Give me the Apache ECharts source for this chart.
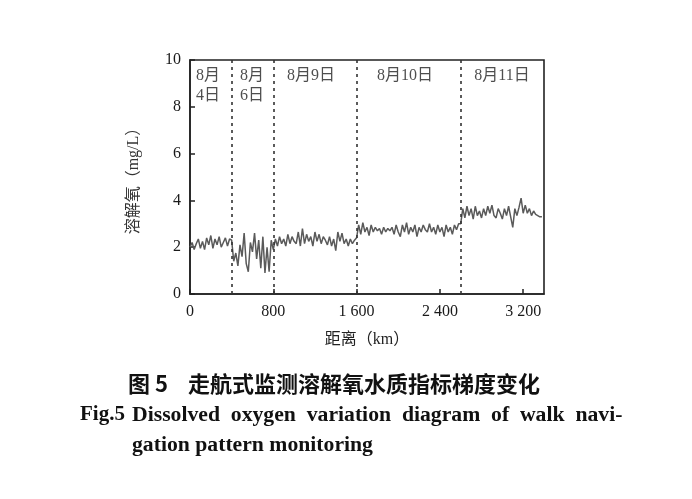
<!DOCTYPE html>
<html><head><meta charset="utf-8">
<script src="https://cdn.jsdelivr.net/npm/echarts@6/dist/echarts.min.js"></script>
<style>html,body{margin:0;padding:0;background:#fff}#c{width:692px;height:499px}</style>
</head><body><div id="c"></div>
<script>
// ---- data ----
var stepKm = 20;
var segStarts = [0, 400, 800, 1600, 2600];
var segAug04 = [2.0,2.2,1.9,2.15,2.35,1.95,2.25,1.9,2.4,2.1,2.5,1.95,2.35,2.1,2.45,2.0,2.2,2.4,2.05,2.35];
var segAug06 = [2.3,1.4,1.75,1.2,2.1,1.6,2.6,1.3,0.95,2.2,1.8,2.6,1.5,2.3,1.1,2.45,0.9,2.0,0.95,2.3];
var segAug09 = [1.9,2.35,2.05,2.45,2.15,2.35,2.05,2.55,2.15,2.45,2.25,2.15,2.65,2.05,2.8,2.15,2.55,2.25,2.45,2.05,
                2.65,2.25,2.55,2.15,2.45,2.3,2.1,2.45,2.05,2.35,1.85,2.65,2.25,2.6,2.15,2.35,2.05,2.35,2.15,2.3];
var segAug10 = [2.4,2.95,2.55,3.05,2.65,2.85,2.5,2.95,2.65,2.85,2.7,2.8,2.55,2.85,2.65,2.8,2.7,2.85,2.55,2.95,
                2.65,2.45,2.95,2.65,3.05,2.55,2.85,2.65,2.95,2.45,2.85,2.65,2.95,2.75,2.65,3.0,2.65,2.85,2.55,2.95,
                2.65,2.85,2.45,2.95,2.65,2.85,2.55,2.95,2.75,3.0];
var segAug11 = [3.0,3.65,3.25,3.75,3.35,3.65,3.2,3.75,3.35,3.55,3.25,3.65,3.35,3.75,3.45,3.8,3.35,3.25,3.65,3.45,
                3.2,3.65,3.35,3.75,3.3,2.85,3.65,3.35,3.7,4.1,3.45,3.8,3.45,3.65,3.35,3.55,3.4,3.35,3.3,3.3];
var boundaries = [400, 800, 1600, 2600];
var dayLabels = ['8月\n4日', '8月\n6日', '8月9日', '8月10日', '8月11日'];
var dayLabelX = [173, 595, 1162, 2064, 2996];
var dayLabelY = 9.75;
var xTicks = [0, 800, 1600, 2400, 3200];
var yTicks = [0, 2, 4, 6, 8, 10];

// ---- build pairs ----
var segs = [segAug04, segAug06, segAug09, segAug10, segAug11];
var lineData = [];
segs.forEach(function (s, k) {
  s.forEach(function (v, i) { lineData.push([segStarts[k] + i * stepKm, v]); });
});
var labelData = dayLabels.map(function (t, i) { return { value: [dayLabelX[i], dayLabelY], name: t }; });

var serif = '"Liberation Serif","Noto Sans CJK SC",serif';
var chart = echarts.init(document.getElementById('c'));
chart.setOption({
  animation: false,
  backgroundColor: '#fff',
  grid: { left: 190, right: 148, top: 60, bottom: 205, show: true, borderColor: '#222', borderWidth: 1.6, backgroundColor: 'transparent' },
  xAxis: {
    type: 'value', min: 0, max: 3400, interval: 800,
    name: '距离（km）', nameLocation: 'middle', nameGap: 38,
    nameTextStyle: { fontFamily: serif, fontSize: 16, color: '#222' },
    axisLine: { lineStyle: { color: '#222', width: 1.6 } },
    axisTick: { inside: true, length: 5, lineStyle: { color: '#222', width: 1.5 } },
    axisLabel: { showMaxLabel: false, margin: 10, fontFamily: serif, fontSize: 16, color: '#1a1a1a',
      formatter: function (v) { return xTicks.indexOf(v) >= 0 ? String(v).replace(/\B(?=(\d{3})+(?!\d))/g, ' ') : ''; } },
    splitLine: { show: false }
  },
  yAxis: {
    type: 'value', min: 0, max: 10, interval: 2,
    name: '溶解氧（mg/L）', nameLocation: 'middle', nameGap: 48,
    nameTextStyle: { fontFamily: serif, fontSize: 16, color: '#333' },
    axisLine: { show: true, lineStyle: { color: '#222', width: 1.6 } },
    axisTick: { show: true, inside: true, length: 5, lineStyle: { color: '#222', width: 1.5 } },
    axisLabel: { margin: 9, fontFamily: serif, fontSize: 16, color: '#1a1a1a',
      formatter: function (v) { return yTicks.indexOf(v) >= 0 ? String(v) : ''; } },
    splitLine: { show: false }
  },
  series: [
    {
      type: 'line', data: lineData, symbol: 'none',
      lineStyle: { color: '#5a5a5a', width: 1.5 },
      markLine: {
        silent: true, symbol: 'none', label: { show: false },
        lineStyle: { color: '#333', type: [3, 4], width: 1.6 },
        data: boundaries.map(function (b) { return { xAxis: b }; })
      }
    },
    {
      type: 'scatter', data: labelData, symbolSize: 0, silent: true,
      label: { show: true, position: 'inside', formatter: function (p) { return p.name; },
        fontFamily: serif, fontSize: 16, color: '#222', lineHeight: 20, align: 'center', verticalAlign: 'top' }
    }
  ],
  graphic: [
    { type: 'text', left: 128, top: 373, style: { text: '图 5    走航式监测溶解氧水质指标梯度变化', font: 'bold 22px "Noto Sans CJK SC"', fill: '#111' } },
    { type: 'text', left: 80, top: 404, style: { text: 'Fig.5', font: 'bold 21px "Liberation Serif"', fill: '#111' } },
    { type: 'text', left: 132, top: 404, style: { text: 'Dissolved  oxygen  variation  diagram  of  walk  navi-', font: 'bold 21.7px "Liberation Serif"', fill: '#111' } },
    { type: 'text', left: 132, top: 434, style: { text: 'gation pattern monitoring', font: 'bold 21.7px "Liberation Serif"', fill: '#111' } }
  ]
});
</script></body></html>
